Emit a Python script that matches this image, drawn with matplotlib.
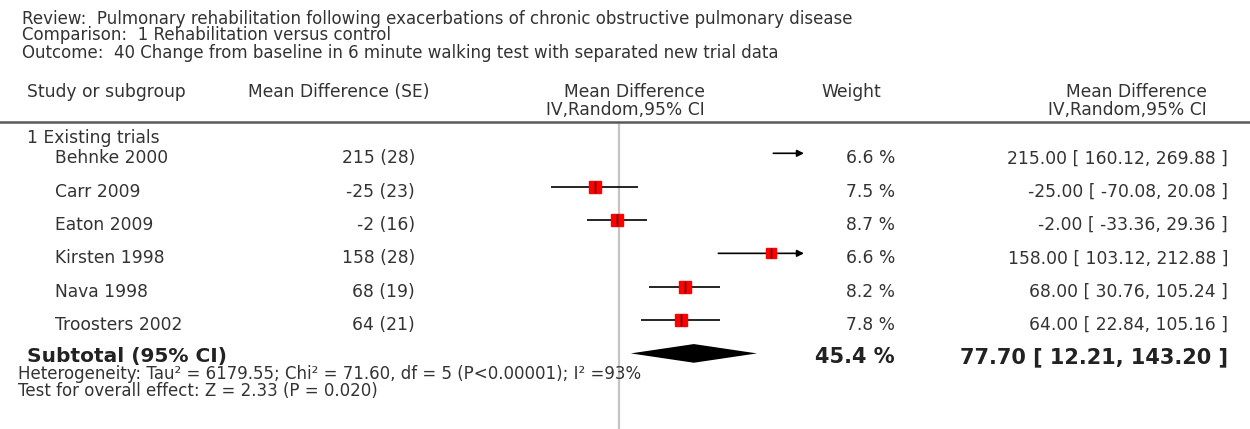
import numpy as np
import matplotlib

matplotlib.use("Agg")

import matplotlib.pyplot as plt
import matplotlib.transforms as mtransforms
from matplotlib.lines import Line2D

W, H = 1250, 429

title_lines = [
    "Review:  Pulmonary rehabilitation following exacerbations of chronic obstructive pulmonary disease",
    "Comparison:  1 Rehabilitation versus control",
    "Outcome:  40 Change from baseline in 6 minute walking test with separated new trial data",
]

subgroup = "1 Existing trials"
studies = ["Behnke 2000", "Carr 2009", "Eaton 2009", "Kirsten 1998", "Nava 1998", "Troosters 2002"]
md = [215, -25, -2, 158, 68, 64]
se = [28, 23, 16, 28, 19, 21]
ci_low = [160.12, -70.08, -33.36, 103.12, 30.76, 22.84]
ci_high = [269.88, 20.08, 29.36, 212.88, 105.24, 105.16]
weights = [6.6, 7.5, 8.7, 6.6, 8.2, 7.8]

sub_md, sub_low, sub_high = 77.70, 12.21, 143.20
sub_weight = 45.4
heterogeneity = "Heterogeneity: Tau\u00b2 = 6179.55; Chi\u00b2 = 71.60, df = 5 (P<0.00001); I\u00b2 =93%"
overall = "Test for overall effect: Z = 2.33 (P = 0.020)"

TXT = "#333333"
FS = 12.3
FS_BOLD = 15


def px(x, y):
    return x / W, 1 - y / H


fig = plt.figure(figsize=(W / 100, H / 100), dpi=100)
fig.patch.set_facecolor("white")

# forest plot panel: 0 at x=619px, rows every 33.35px starting at y=153px
ax = fig.add_axes([434 / W, 0, 370 / W, (H - 123) / H])
ax.set_xlim(-192, 192)
ax.set_ylim((H - 153.3) / 33.35, (123 - 153.3) / 33.35)
ax.axis("off")

ax.axvline(0, color="#c4c4c4", lw=1.6, zorder=0)

xmin, xmax = ax.get_xlim()
for i in range(len(studies)):
    lo = max(ci_low[i], xmin)
    hi = ci_high[i]
    if hi > xmax:
        ax.annotate("", xy=(xmax, i), xytext=(lo, i),
                    arrowprops=dict(arrowstyle="-|>", color="black", lw=1.2,
                                    mutation_scale=10, shrinkA=0, shrinkB=0))
    else:
        ax.plot([lo, hi], [i, i], color="black", lw=1.2, solid_capstyle="butt")
    if xmin <= md[i] <= xmax:
        ms = 8 * (weights[i] / 7.5) ** 0.25
        ax.plot(md[i], i, marker="s", ms=ms, color="#ff0000", mec="#ff0000", zorder=3)
        ax.plot(md[i], i, marker="|", ms=ms, color="black", mew=1.0, zorder=4)

ns = len(studies)
dh = 0.28
ax.fill([sub_low, sub_md, sub_high, sub_md], [ns, ns - dh, ns, ns + dh],
        color="black", lw=0, zorder=3)

# header
for k, line in enumerate(title_lines):
    fig.text(*px(22, 23.5 + 17 * k), line, fontsize=12, color=TXT, va="baseline")

fig.text(*px(27, 97), "Study or subgroup", fontsize=FS, color=TXT, va="baseline")
fig.text(*px(248, 97), "Mean Difference (SE)", fontsize=FS, color=TXT, va="baseline")
fig.text(*px(705, 97), "Mean Difference", fontsize=FS, color=TXT, va="baseline", ha="right")
fig.text(*px(705, 115), "IV,Random,95% CI", fontsize=FS, color=TXT, va="baseline", ha="right")
fig.text(*px(821, 97), "Weight", fontsize=FS, color=TXT, va="baseline")
fig.text(*px(1207, 97), "Mean Difference", fontsize=FS, color=TXT, va="baseline", ha="right")
fig.text(*px(1207, 115), "IV,Random,95% CI", fontsize=FS, color=TXT, va="baseline", ha="right")

fig.add_artist(Line2D([0, 1], [1 - 122 / H] * 2, color="#5a5a5a", lw=1.8,
                      transform=fig.transFigure))

# rows: x in figure fraction, y in forest data units
tr = mtransforms.blended_transform_factory(fig.transFigure, ax.transData)

fig.text(27 / W, -0.3, subgroup, transform=tr, fontsize=FS, color=TXT, va="baseline")
for i in range(ns):
    y = i + 0.3
    fig.text(55 / W, y, studies[i], transform=tr, fontsize=FS, color=TXT, va="baseline")
    fig.text(415 / W, y, f"{md[i]} ({se[i]})", transform=tr, fontsize=FS, color=TXT,
             va="baseline", ha="right")
    fig.text(895 / W, y, f"{weights[i]:.1f} %", transform=tr, fontsize=FS, color=TXT,
             va="baseline", ha="right")
    fig.text(1228 / W, y, f"{md[i]:.2f} [ {ci_low[i]:.2f}, {ci_high[i]:.2f} ]", transform=tr,
             fontsize=FS, color=TXT, va="baseline", ha="right")

fig.text(27 / W, ns + 0.25, "Subtotal (95% CI)", transform=tr, fontsize=14.5,
         fontweight="bold", color="#222222", va="baseline")
fig.text(895 / W, ns + 0.3, f"{sub_weight:.1f} %", transform=tr, fontsize=FS_BOLD,
         fontweight="bold", color="#222222", va="baseline", ha="right")
fig.text(1228 / W, ns + 0.3, f"{sub_md:.2f} [ {sub_low:.2f}, {sub_high:.2f} ]", transform=tr,
         fontsize=FS_BOLD, fontweight="bold", color="#222222", va="baseline", ha="right")
fig.text(18 / W, ns + 0.78, heterogeneity, transform=tr, fontsize=12, color=TXT,
         va="baseline")
fig.text(18 / W, ns + 1.28, overall, transform=tr, fontsize=12, color=TXT, va="baseline")

fig.savefig("out.png", dpi=100)
